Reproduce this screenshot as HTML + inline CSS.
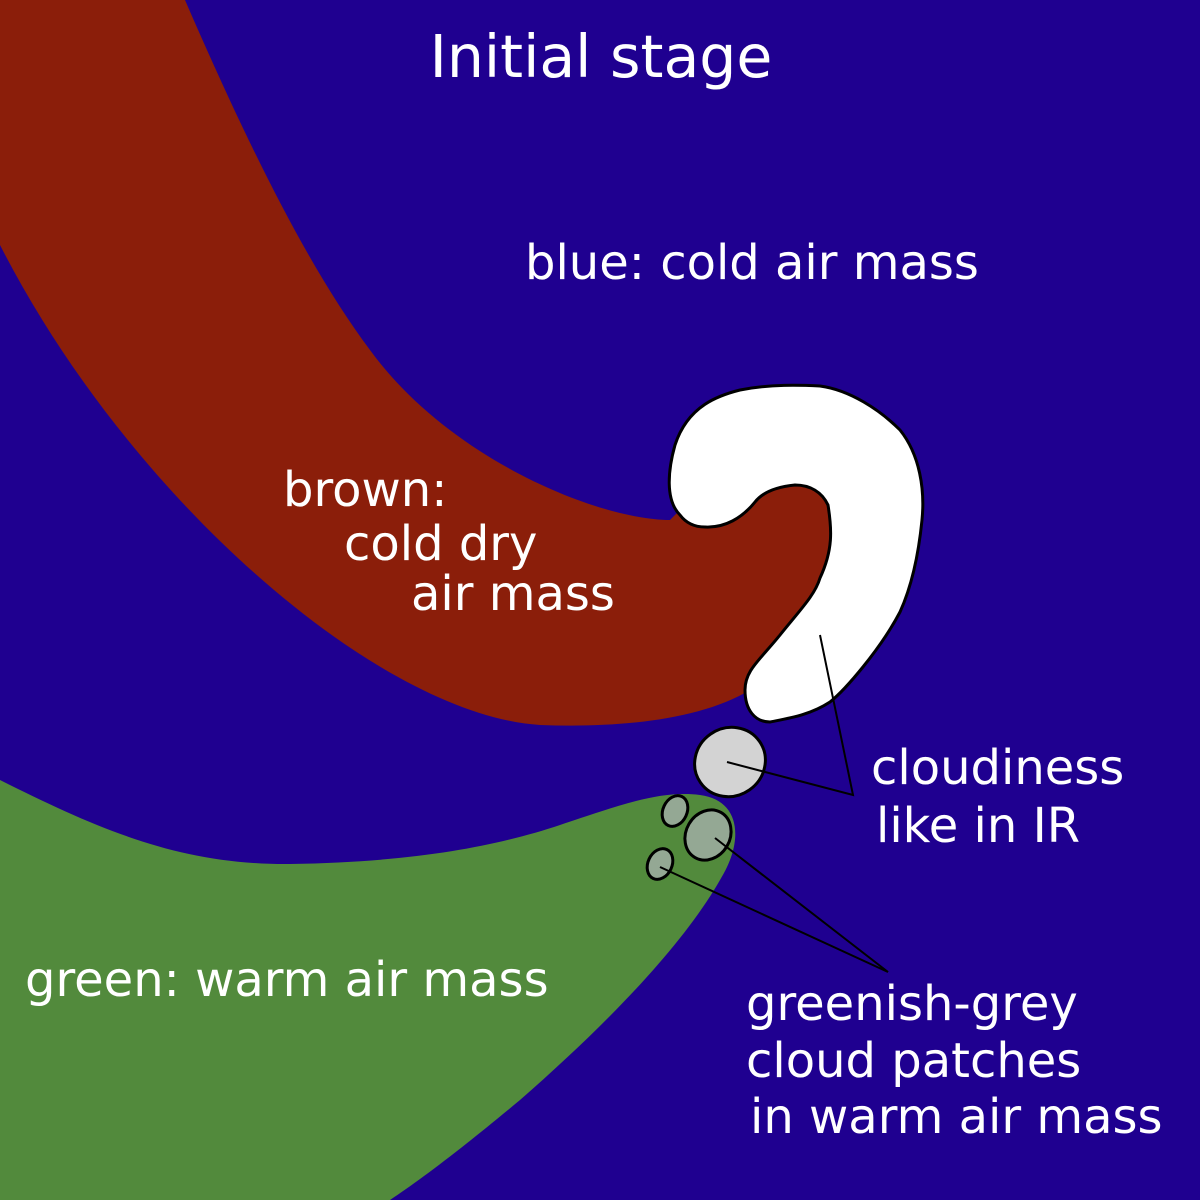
<!DOCTYPE html>
<html><head><style>
html,body{margin:0;padding:0;width:1200px;height:1200px;overflow:hidden;background:#1f0090}
svg text{font-family:"DejaVu Sans","Liberation Sans",sans-serif;fill:#fff}
</style></head><body>
<svg width="1200" height="1200" viewBox="0 0 1200 1200" xmlns="http://www.w3.org/2000/svg">
<rect width="1200" height="1200" fill="#1f0090"/>
<path d="M0,0 L185,0 C250,150 310,270 370,350 C450,460 600,520 670,520 L720,470 L800,470 L840,510 C840,560 820,600 750,690 C700,720 620,728 540,725 C380,715 130,500 0,245 Z" fill="#8b1e0a"/>
<path d="M0,780 C100,830 180,865 290,864 C420,862 500,845 560,825 C620,805 660,790 700,795 C740,800 745,840 720,880 C680,950 600,1030 520,1100 C460,1150 420,1180 390,1200 L0,1200 Z" fill="#528a3c"/>
<path d="M680,515 C665,500 668,470 675,445 C688,405 720,395 740,390 C770,384 800,385 820,386 C850,390 880,410 900,430 C920,455 925,490 922,520 C918,560 910,590 900,612 C880,650 845,690 830,702 C810,715 790,718 770,722 C755,722 745,710 745,690 C745,670 760,660 780,635 C800,610 815,595 820,578 C833,550 832,530 828,505 C822,492 810,485 795,485 C775,487 762,493 755,502 C742,518 725,528 705,527 C695,527 686,523 680,515 Z" fill="#fff" stroke="#000" stroke-width="3"/>
<ellipse cx="730" cy="762" rx="36" ry="34" transform="rotate(-35 730 762)" fill="#d3d3d3" stroke="#000" stroke-width="3"/>
<ellipse cx="675" cy="811" rx="12" ry="16" transform="rotate(25 675 811)" fill="#94a894" stroke="#000" stroke-width="3"/>
<ellipse cx="708" cy="835" rx="22" ry="26" transform="rotate(30 708 835)" fill="#94a894" stroke="#000" stroke-width="3"/>
<ellipse cx="660" cy="864" rx="12" ry="16" transform="rotate(25 660 864)" fill="#94a894" stroke="#000" stroke-width="3"/>
<polyline points="820,635 853,795 727,762" fill="none" stroke="#000" stroke-width="2"/>
<polyline points="715,838 888,972 660,867" fill="none" stroke="#000" stroke-width="2"/>
<text x="601" y="77" font-size="58.5" text-anchor="middle">Initial stage</text>
<g font-size="48">
<text x="525" y="279">blue: cold air mass</text>
<text x="283" y="506">brown:</text>
<text x="344" y="560">cold dry</text>
<text x="411" y="610">air mass</text>
<text x="871" y="784">cloudiness</text>
<text x="876" y="842">like in IR</text>
<text x="25" y="996">green: warm air mass</text>
<text x="746" y="1020">greenish-grey</text>
<text x="746" y="1077">cloud patches</text>
<text x="750" y="1133">in warm air mass</text>
</g>
</svg>
</body></html>
